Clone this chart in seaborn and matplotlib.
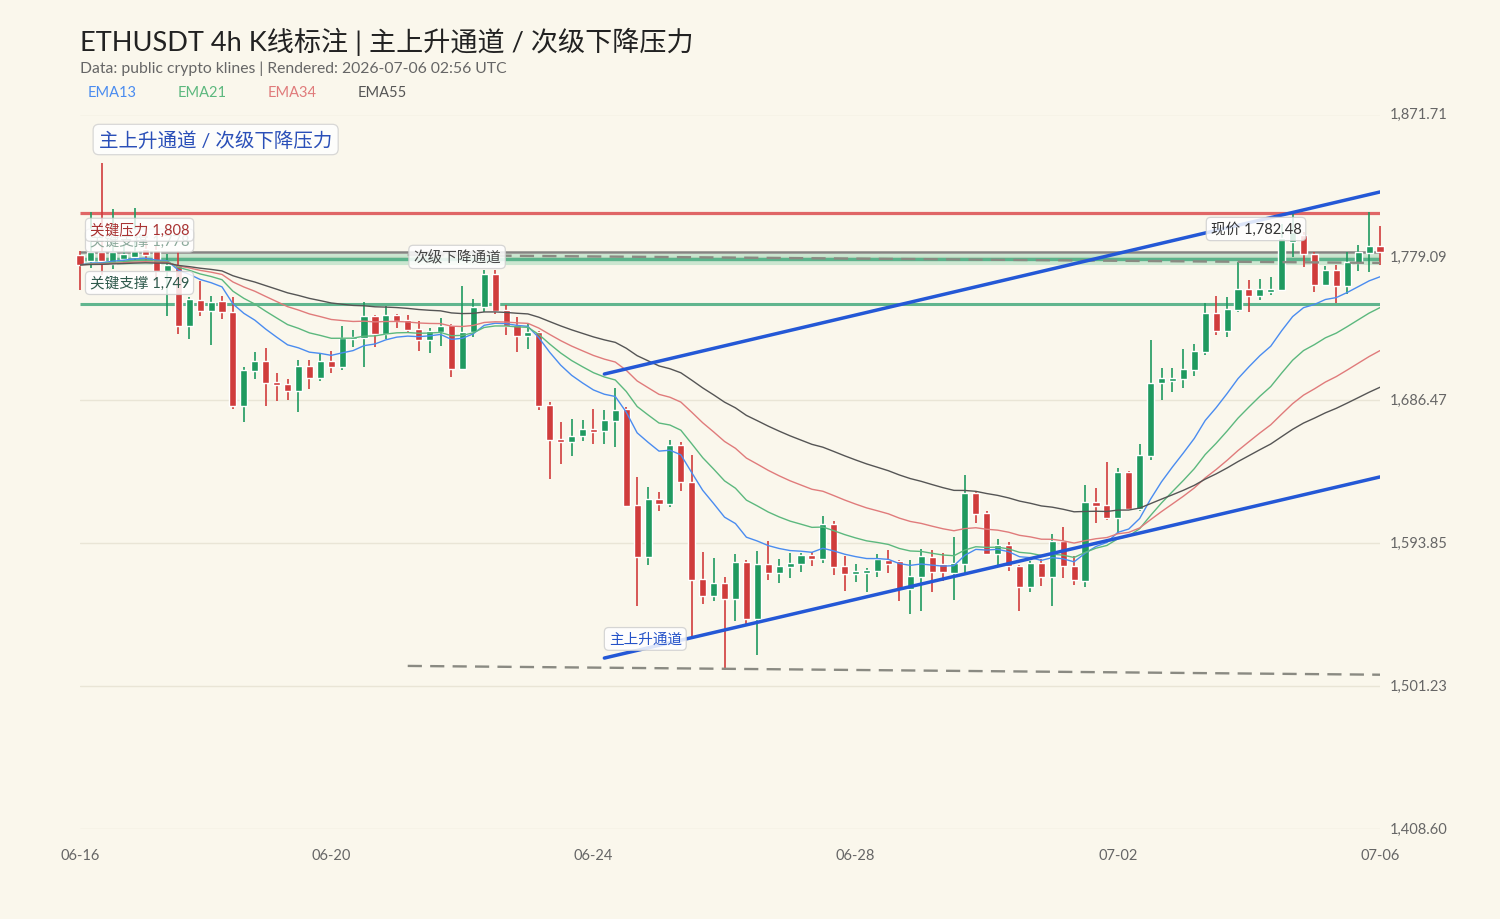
import numpy as np
import pandas as pd
import matplotlib
matplotlib.use('Agg')
import matplotlib.pyplot as plt
import matplotlib.transforms as mtransforms
import seaborn as sns

# 4h K线数据
opens = [1780.7, 1776.8, 1782.6, 1774.8, 1778.1, 1779.4, 1784.6, 1783.9, 1770.3, 1773.5,
         1734.6, 1751.5, 1744.4, 1750.8, 1743.7, 1682.8, 1705.5, 1712.0, 1698.3, 1696.9,
         1692.5, 1708.7, 1700.9, 1712.0, 1708.1, 1726.2, 1726.9, 1741.1, 1729.5, 1741.8,
         1738.5, 1732.7, 1725.6, 1730.8, 1735.3, 1706.8, 1730.8, 1746.9, 1768.3, 1745.0,
         1735.3, 1728.2, 1730.8, 1683.4, 1661.4, 1659.4, 1663.3, 1667.9, 1666.6, 1673.1,
         1680.8, 1618.6, 1584.9, 1622.5, 1619.2, 1657.5, 1633.5, 1570.6, 1559.6, 1568.1,
         1557.7, 1581.7, 1544.7, 1580.4, 1574.5, 1578.5, 1580.4, 1586.2, 1583.6, 1606.3,
         1579.1, 1573.9, 1574.5, 1575.8, 1583.0, 1582.3, 1564.2, 1571.9, 1584.9, 1580.4,
         1574.5, 1580.4, 1626.4, 1613.4, 1586.9, 1592.7, 1579.1, 1565.5, 1581.0, 1571.9,
         1595.3, 1579.1, 1569.4, 1620.6, 1618.6, 1610.2, 1640.0, 1616.0, 1650.4, 1697.7,
         1699.0, 1700.3, 1706.1, 1717.8, 1743.1, 1731.4, 1745.0, 1758.6, 1754.1, 1756.7,
         1758.0, 1789.1, 1793.6, 1781.3, 1761.2, 1770.9, 1760.6, 1775.5, 1781.9, 1786.5]
highs = [1783.3, 1808.5, 1840.3, 1810.5, 1787.8, 1811.1, 1791.0, 1786.5, 1781.3, 1783.3,
         1753.4, 1763.8, 1754.1, 1754.1, 1753.4, 1708.1, 1717.8, 1720.4, 1704.2, 1700.3,
         1712.6, 1712.6, 1716.5, 1718.4, 1734.6, 1732.0, 1750.2, 1741.8, 1747.6, 1742.4,
         1741.8, 1737.9, 1733.3, 1739.8, 1735.9, 1760.6, 1752.1, 1770.9, 1770.9, 1748.3,
         1740.5, 1735.9, 1731.4, 1685.4, 1672.4, 1674.4, 1673.7, 1680.8, 1680.2, 1694.4,
         1682.1, 1636.7, 1630.3, 1627.0, 1660.7, 1659.4, 1651.0, 1588.1, 1584.3, 1572.0,
         1586.9, 1583.0, 1588.8, 1595.3, 1583.6, 1587.5, 1587.5, 1588.1, 1611.5, 1608.2,
         1585.6, 1580.4, 1577.8, 1586.9, 1589.4, 1583.0, 1583.0, 1590.1, 1589.4, 1587.5,
         1597.9, 1638.1, 1627.0, 1614.7, 1596.6, 1594.6, 1579.8, 1582.3, 1583.6, 1599.8,
         1604.4, 1585.6, 1631.6, 1629.6, 1646.5, 1642.6, 1640.7, 1658.1, 1725.6, 1707.4,
         1707.4, 1719.7, 1723.0, 1749.5, 1754.1, 1753.4, 1776.1, 1764.5, 1765.1, 1766.4,
         1800.8, 1808.5, 1795.6, 1782.6, 1773.5, 1774.2, 1782.6, 1787.1, 1808.5, 1799.5]
lows = [1758.0, 1772.2, 1767.7, 1771.6, 1774.8, 1776.8, 1776.8, 1763.8, 1741.1, 1729.5,
        1726.2, 1741.1, 1722.3, 1739.2, 1680.8, 1672.4, 1700.3, 1682.8, 1686.0, 1686.7,
        1678.9, 1693.8, 1699.0, 1704.2, 1706.1, 1721.0, 1708.1, 1721.0, 1726.2, 1733.3,
        1730.8, 1718.4, 1717.1, 1721.7, 1701.6, 1706.1, 1727.5, 1743.7, 1742.4, 1728.8,
        1717.8, 1719.7, 1680.2, 1635.5, 1645.2, 1650.4, 1660.1, 1658.1, 1658.1, 1656.2,
        1617.3, 1553.1, 1579.8, 1614.7, 1617.3, 1627.7, 1533.7, 1554.4, 1556.4, 1511.7,
        1543.4, 1541.5, 1521.4, 1570.0, 1568.1, 1571.3, 1575.2, 1579.1, 1581.0, 1573.2,
        1562.9, 1568.7, 1562.2, 1572.0, 1574.5, 1556.4, 1548.0, 1549.9, 1562.2, 1569.4,
        1557.0, 1574.5, 1606.9, 1586.2, 1579.8, 1575.8, 1549.9, 1562.2, 1566.1, 1553.1,
        1571.3, 1566.8, 1565.5, 1606.9, 1608.9, 1599.8, 1615.4, 1614.7, 1647.8, 1686.7,
        1691.9, 1694.4, 1702.2, 1715.9, 1728.8, 1727.5, 1743.7, 1743.7, 1751.5, 1754.7,
        1757.3, 1779.4, 1772.9, 1756.7, 1760.6, 1749.5, 1755.4, 1770.3, 1769.6, 1774.2]
closes = [1774.2, 1782.6, 1776.8, 1782.6, 1781.3, 1783.3, 1780.7, 1770.3, 1774.2, 1734.6,
          1752.1, 1744.4, 1750.2, 1743.7, 1682.8, 1706.1, 1712.0, 1697.7, 1696.2, 1692.5,
          1708.7, 1700.9, 1712.0, 1708.1, 1726.9, 1727.5, 1741.1, 1729.5, 1741.8, 1737.9,
          1732.0, 1725.6, 1731.4, 1734.6, 1706.8, 1730.8, 1746.9, 1768.3, 1744.4, 1734.6,
          1728.2, 1730.8, 1682.8, 1660.7, 1659.4, 1663.3, 1667.9, 1665.9, 1673.7, 1680.2,
          1617.9, 1584.9, 1622.5, 1619.2, 1657.5, 1633.5, 1570.0, 1559.6, 1568.1, 1557.7,
          1581.7, 1544.7, 1580.4, 1574.5, 1579.1, 1581.0, 1586.2, 1583.6, 1606.3, 1578.5,
          1573.9, 1575.8, 1576.5, 1583.6, 1580.4, 1564.2, 1572.6, 1585.6, 1575.2, 1575.2,
          1581.0, 1626.4, 1612.8, 1586.9, 1592.7, 1579.1, 1565.5, 1581.0, 1571.9, 1595.3,
          1579.1, 1570.0, 1620.6, 1618.0, 1610.2, 1640.0, 1616.0, 1651.0, 1697.7, 1700.9,
          1700.9, 1706.8, 1718.4, 1743.1, 1731.4, 1745.7, 1758.6, 1754.1, 1758.6, 1758.6,
          1791.7, 1795.6, 1781.3, 1761.2, 1770.9, 1760.6, 1776.1, 1782.6, 1786.5, 1782.48]

tick_pos = [0, 23, 47, 71, 95, 119]
tick_labels = ['06-16', '06-20', '06-24', '06-28', '07-02', '07-06']
y_tick_labels = ['1,408.60', '1,501.23', '1,593.85', '1,686.47', '1,779.09', '1,871.71']

resistance = 1808
support_hi = 1778
support_lo = 1749
last_price = 1782.48

# 主上升通道 (index, price)
rise_x = [48, 119]
rise_lower = [1519.4, 1636.8]
rise_upper = [1703.5, 1821.5]
# 次级下降通道
fall_x = [30, 119]
fall_upper = [1780.7, 1775.5]
fall_lower = [1514.3, 1508.6]

ema_spans = [13, 21, 34, 55]
ema_colors = ['#4a8cf0', '#5cb87e', '#e07b7b', '#555555']

y_min, y_max = 1408.60, 1871.71

# ---------------------------------------------------------------
df = pd.DataFrame({'open': opens, 'high': highs, 'low': lows, 'close': closes})
df['idx'] = np.arange(len(df))
for s in ema_spans:
    df['ema%d' % s] = df['close'].ewm(span=s, adjust=False).mean()

bg = '#faf7ec'
sns.set_theme(style='white')
plt.rcParams['font.family'] = ['Lato', 'Noto Sans CJK SC', 'DejaVu Sans']
plt.rcParams['axes.unicode_minus'] = False

fig = plt.figure(figsize=(15, 9.2), dpi=100, facecolor=bg)
ax = fig.add_axes([80 / 1500, 90 / 920, 1300 / 1500, 714.5 / 920])
ax.set_facecolor(bg)

green = '#1f9a60'
red = '#d03c3c'
up = df['close'] >= df['open']
cols = np.where(up, green, red)

# 水平关键位
ax.hlines(resistance, 0, 119, color='#e06666', lw=2.3, zorder=2)
ax.hlines(support_hi, 0, 119, color='#5fbf90', lw=8, alpha=0.3, zorder=2)
ax.hlines(support_hi, 0, 119, color='#4fae84', lw=2.4, alpha=0.9, zorder=2)
ax.hlines(support_lo, 0, 119, color='#4fae84', lw=2.2, alpha=0.9, zorder=2)
ax.hlines(last_price, 0, 119, color='#707070', lw=1.8, alpha=0.85, zorder=2)

# K线
ax.vlines(df['idx'], df['low'], df['high'], colors=cols, lw=1.2, zorder=3, clip_on=False)
body_h = np.maximum((df['close'] - df['open']).abs(), 0.9)
body_b = np.minimum(df['open'], df['close'])
ax.bar(df['idx'], body_h, bottom=body_b, width=0.65, color=cols, zorder=3, clip_on=False)

# EMA
for s, c in zip(ema_spans, ema_colors):
    sns.lineplot(x=df['idx'], y=df['ema%d' % s], ax=ax, color=c, lw=1.0, zorder=4, legend=False)

# 通道线
ax.plot(fall_x, fall_upper, color='#8a8a82', lw=1.7, dashes=(6, 3.5), zorder=4)
ax.plot(fall_x, fall_lower, color='#8a8a82', lw=1.7, dashes=(6, 3.5), zorder=4)
ax.plot(rise_x, rise_lower, color='#2458d6', lw=2.5, zorder=5)
ax.plot(rise_x, rise_upper, color='#2458d6', lw=2.5, zorder=5)

box = dict(boxstyle='round,pad=0.3', fc='white', ec='#cfcfcf', alpha=0.85, lw=0.9)
ax.text(0.9, 1790.0, '关键支撑 1,778', fontsize=10.5, color='#8aa89a', va='center', zorder=6, bbox=box)
ax.text(0.9, 1797.0, '关键压力 1,808', fontsize=10.5, color='#a83232', va='center', zorder=7,
        bbox=dict(boxstyle='round,pad=0.3', fc='white', ec='#cfcfcf', alpha=0.8, lw=0.9))
ax.text(0.9, 1762.5, '关键支撑 1,749', fontsize=10.5, color='#2f5a4c', va='center', zorder=7, bbox=box)
ax.text(30.5, 1779.4, '次级下降通道', fontsize=10.5, color='#444444', va='center', zorder=7, bbox=box)
ax.text(48.4, 1531.8, '主上升通道', fontsize=10.5, color='#2452c8', va='center', zorder=7, bbox=box)
ax.text(103.5, 1797.5, '现价 1,782.48', fontsize=10.5, color='#333333', va='center', zorder=7, bbox=box)
ax.text(0.0146, 0.965, '主上升通道 / 次级下降压力', transform=ax.transAxes, fontsize=14,
        color='#2a4fb8', va='center', zorder=7,
        bbox=dict(boxstyle='round,pad=0.3', fc='white', ec='#cfcfcf', alpha=0.8, lw=0.9))

# 坐标轴
ax.set_xlim(0, 119)
ax.set_ylim(y_min, y_max)
ax.set_yticks(np.linspace(y_min, y_max, 6))
ax.set_yticklabels(y_tick_labels)
ax.yaxis.tick_right()
ax.set_xticks(tick_pos)
ax.set_xticklabels(tick_labels)
ax.tick_params(axis='both', length=0, labelsize=10.5, colors='#666666')
ax.tick_params(axis='y', pad=7)
ax.tick_params(axis='x', pad=14)
shift = mtransforms.ScaledTranslation(0, 2 / 100, fig.dpi_scale_trans)
for lab in ax.get_yticklabels():
    lab.set_transform(lab.get_transform() + shift)
ax.grid(axis='y', color='#e9e5d6', lw=1)
ax.grid(axis='x', visible=False)
for sp in ax.spines.values():
    sp.set_visible(False)
ax.set_xlabel('')
ax.set_ylabel('')

fig.text(80 / 1500, 1 - 42 / 920, 'ETHUSDT 4h K线标注 | 主上升通道 / 次级下降压力',
         fontsize=19.5, color='#222222', va='center')
fig.text(80 / 1500, 1 - 69 / 920, 'Data: public crypto klines | Rendered: 2026-07-06 02:56 UTC',
         fontsize=11.3, color='#666666', va='center')
for xp, s, c in zip([88, 178, 268, 358], ema_spans, ema_colors):
    fig.text(xp / 1500, 1 - 93 / 920, 'EMA%d' % s, fontsize=10.5, color=c, va='center')

fig.savefig('out.png', dpi=100, facecolor=bg)
